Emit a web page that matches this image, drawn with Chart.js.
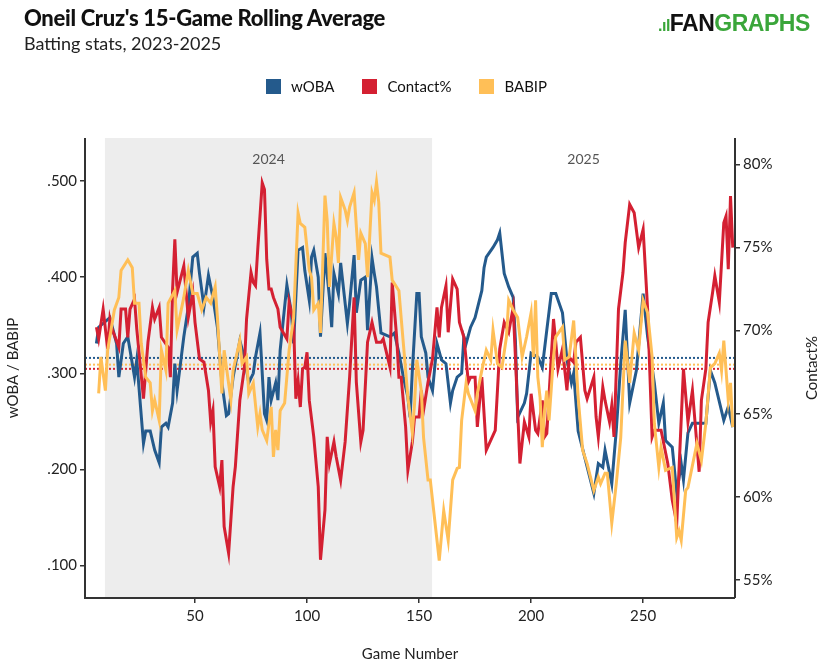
<!DOCTYPE html>
<html><head><meta charset="utf-8">
<script src="https://cdn.jsdelivr.net/npm/chart.js@4"></script>
<style>
body{margin:0;background:#fff;font-family:Lato,"Open Sans",sans-serif;}
#wrap{position:relative;width:823px;height:667px;}
#t{position:absolute;left:24px;top:4px;font-size:22px;font-weight:900;color:#111;letter-spacing:-0.3px}
#s{position:absolute;left:24px;top:32px;font-size:18px;color:#222}
#logo{position:absolute;left:658px;top:10px;font-size:23px;font-weight:900;font-family:"Liberation Sans",Arial,sans-serif;letter-spacing:-0.5px}
#lg{position:absolute;top:77px;left:0;width:823px;display:flex;justify-content:center;gap:28px;font-size:15px;color:#111}
#lg span{display:flex;align-items:center}
#lg i{display:inline-block;width:15px;height:15px;margin-right:10px}
</style></head><body><div id="wrap">
<canvas id="c" width="823" height="667"></canvas>
<div id="t">Oneil Cruz's 15-Game Rolling Average</div>
<div id="s">Batting stats, 2023-2025</div>
<div id="logo"><span style="color:#3aa63a;font-size:16px">.ıl</span><span style="color:#111">FAN</span><span style="color:#3aa63a">GRAPHS</span></div>
<div id="lg"><span style="margin-left:-10px"><i style="background:#245a8c"></i>wOBA</span><span><i style="background:#d42032"></i>Contact%</span><span><i style="background:#ffbf57"></i>BABIP</span></div>
</div>
<script>
const seriesNames=["wOBA","Contact%","BABIP"];
const wobaGames=[6,7,12,15,16,18,20,23,24,27,28,30,32,34,35,37,38,40,41,42,45,47,49,51,52,54,56,58,60,62,64,65,67,70,72,74,76,77,79,81,82,83,84,86,87,88,91,93,94,96,98,99,101,102,103,105,106,108,110,111,112,114,115,118,119,121,122,124,126,127,129,130,131,133,137,139,141,143,145,146,147,149,150,151,153,154,156,158,160,162,164,165,167,169,170,171,173,175,178,179,180,183,185,186,188,190,192,193,194,197,198,200,203,205,207,209,211,214,216,218,219,221,224,228,230,232,233,236,238,240,242,244,247,250,252,255,257,259,260,263,265,267,268,270,272,275,278,280,282,286,288,290];
const wobaVals=[.331,.348,.358,.331,.296,.331,.338,.296,.314,.227,.240,.240,.220,.207,.244,.248,.244,.269,.310,.282,.338,.369,.421,.425,.404,.369,.402,.379,.348,.290,.256,.258,.296,.334,.317,.290,.300,.317,.342,.258,.251,.296,.272,.290,.272,.324,.392,.363,.331,.428,.431,.407,.376,.421,.428,.400,.338,.425,.379,.348,.404,.383,.415,.352,.373,.423,.363,.397,.400,.345,.420,.404,.390,.342,.338,.342,.321,.296,.275,.254,.303,.383,.383,.338,.321,.296,.282,.331,.314,.310,.269,.282,.296,.300,.338,.331,.348,.358,.386,.410,.421,.431,.439,.446,.404,.390,.379,.334,.254,.269,.279,.321,.317,.306,.345,.383,.383,.363,.314,.290,.300,.240,.212,.175,.206,.202,.220,.185,.240,.310,.366,.269,.303,.383,.338,.290,.248,.269,.230,.223,.175,.206,.189,.238,.248,.248,.248,.303,.290,.251,.265,.244];
const contactGames=[6,7,9,11,12,13,16,17,19,20,21,23,24,27,29,31,32,34,35,38,39,40,41,42,45,47,49,50,52,54,56,57,58,59,61,62,63,65,67,68,70,72,73,75,76,77,78,80,81,82,83,84,85,87,88,91,92,94,95,96,97,98,99,100,101,103,105,106,108,109,110,112,113,115,117,119,121,122,124,125,127,129,131,133,134,137,138,140,141,142,144,145,147,148,150,151,152,154,156,158,159,160,162,163,165,167,168,170,172,173,175,176,178,180,184,186,188,190,192,193,195,197,199,200,202,203,205,206,207,210,211,212,214,216,217,219,220,222,224,225,228,229,230,232,233,235,236,237,239,241,242,244,246,248,250,252,254,255,258,261,263,265,266,268,270,272,275,276,278,279,281,282,284,286,287,288,289,290];
const contactVals=[70.2,69.5,71.3,68.9,70.7,70.1,69.0,71.3,71.3,69.6,71.3,71.9,70.1,65.9,69.3,71.4,70.7,71.4,69.6,69.0,67.2,72.5,75.5,72.3,73.9,70.8,72.3,70.5,68.3,68.1,66.4,64.5,65.2,61.8,60.6,62.2,58.2,56.6,60.6,61.8,65.8,67.7,70.7,73.5,72.9,72.7,74.9,78.9,78.5,74.3,72.5,72.5,72.0,71.3,70.2,69.5,71.7,70.5,65.9,67.0,65.4,67.7,67.8,68.7,65.8,63.6,60.6,56.2,59.2,63.6,62.0,63.3,62.4,61.0,63.3,67.2,72.0,66.9,63.3,64.0,69.3,70.5,69.3,69.3,69.5,67.8,72.9,69.6,67.2,67.2,64.2,61.6,63.3,64.8,64.8,66.4,65.2,66.9,68.3,71.4,69.6,71.4,72.7,69.9,73.1,72.5,70.5,69.6,66.9,67.2,67.2,64.2,67.2,62.8,64.0,68.9,70.5,69.9,71.4,68.4,62.0,64.5,63.6,66.2,64.0,63.8,65.8,63.6,63.8,70.7,69.3,67.7,68.9,66.4,68.4,68.1,69.3,69.6,66.4,65.9,67.2,64.8,63.6,66.6,65.8,64.5,65.5,63.6,71.3,73.5,75.3,77.6,77.1,75.0,76.1,71.3,63.6,64.0,64.0,62.0,59.8,58.4,61.6,67.7,64.5,66.4,61.5,65.8,67.7,70.5,72.3,73.3,71.7,76.5,76.9,73.7,78.1,75.0];
const babipGames=[7,8,10,11,14,16,17,20,22,23,25,26,28,30,31,32,34,35,37,38,41,42,45,47,49,51,53,55,57,59,60,62,63,66,67,70,71,73,74,76,78,79,80,82,84,85,86,87,88,90,92,94,96,97,99,101,102,103,105,106,108,109,110,112,113,114,115,117,118,119,121,123,124,126,127,129,130,131,132,133,137,138,141,142,144,145,147,148,149,151,152,154,155,157,159,161,163,165,167,168,169,171,172,175,176,178,180,182,183,185,187,189,190,192,194,196,198,200,201,202,203,204,205,206,207,208,210,211,214,215,217,219,221,223,225,228,230,231,233,234,236,238,240,242,244,246,248,250,252,254,255,257,258,260,263,265,266,267,269,270,274,276,278,280,282,284,285,286,288,289,290];
const babipVals=[.279,.317,.282,.324,.366,.379,.407,.418,.410,.373,.373,.331,.296,.290,.261,.272,.251,.324,.303,.373,.386,.345,.379,.407,.383,.383,.366,.379,.373,.390,.358,.279,.324,.272,.303,.334,.310,.317,.279,.290,.244,.258,.241,.230,.265,.213,.241,.220,.261,.269,.324,.358,.467,.456,.452,.407,.400,.366,.373,.342,.485,.459,.390,.456,.442,.415,.483,.470,.459,.473,.488,.418,.446,.435,.400,.488,.480,.499,.478,.425,.421,.397,.386,.358,.303,.275,.238,.269,.314,.282,.233,.189,.189,.147,.105,.157,.126,.189,.201,.202,.251,.290,.279,.261,.279,.303,.324,.314,.345,.310,.306,.338,.376,.366,.358,.317,.338,.363,.317,.376,.296,.275,.223,.261,.282,.251,.317,.338,.348,.314,.317,.355,.275,.220,.206,.178,.192,.185,.196,.196,.144,.185,.233,.334,.290,.342,.324,.376,.363,.317,.248,.202,.223,.199,.202,.129,.136,.126,.178,.181,.227,.209,.248,.306,.310,.321,.303,.334,.272,.290,.244];
const seasonLabels=["2024","2025"];
const season2024=[9.8,155.8];
const avgWoba=.316, avgBabip=.309, avgContact=67.7;
const gameTicks=[50,100,150,200,250];
const leftTicks=[.1,.2,.3,.4,.5];
const rightTicks=[55,60,65,70,75,80];

const pts=(g,v)=>g.map((x,i)=>({x,y:v[i]}));
const C={woba:"#245a8c",con:"#d42032",bab:"#ffbf57"};
const bg={id:"bg",beforeDatasetsDraw(ch){const {ctx,chartArea:a,scales:{x,y,y2}}=ch;
 ctx.save();ctx.fillStyle="#ededed";const x0=x.getPixelForValue(season2024[0]),x1=x.getPixelForValue(season2024[1]);
 ctx.fillRect(x0,a.top,x1-x0,a.bottom-a.top);
 ctx.fillStyle="#555";ctx.font="14px Lato";ctx.textAlign="center";
 ctx.fillText(seasonLabels[0],(x0+x1)/2,164);ctx.fillText(seasonLabels[1],(x1+a.right)/2,164);
 ctx.setLineDash([2,2]);ctx.lineWidth=2;
 [[y,avgWoba,C.woba],[y,avgBabip,C.bab],[y2,avgContact,C.con]].forEach(([s,v,c])=>{ctx.strokeStyle=c;const py=s.getPixelForValue(v);ctx.beginPath();ctx.moveTo(a.left,py);ctx.lineTo(a.right,py);ctx.stroke();});
 ctx.restore();},
 afterDraw(ch){const {ctx,chartArea:a}=ch;ctx.save();ctx.strokeStyle="#333";ctx.lineWidth=2;ctx.beginPath();ctx.moveTo(a.left,a.top);ctx.lineTo(a.left,a.bottom);ctx.lineTo(a.right,a.bottom);ctx.moveTo(a.right,a.top);ctx.lineTo(a.right,a.bottom);ctx.stroke();
 ctx.translate(812,(a.top+a.bottom)/2);ctx.rotate(-Math.PI/2);ctx.fillStyle="#222";ctx.font="15px Lato";ctx.textAlign="center";ctx.textBaseline="middle";ctx.fillText(seriesNames[1],0,0);
 ctx.restore();}};
const ds=(l,d,c,ax)=>({label:l,data:d,borderColor:c,borderWidth:3,pointRadius:0,tension:0,yAxisID:ax,fill:false});
const g={drawOnChartArea:false,drawTicks:true,tickLength:5,tickColor:"#333",lineWidth:1.5};
new Chart(document.getElementById("c"),{type:"line",
 data:{datasets:[ds(seriesNames[2],pts(babipGames,babipVals),C.bab,"y"),ds(seriesNames[1],pts(contactGames,contactVals),C.con,"y2"),ds(seriesNames[0],pts(wobaGames,wobaVals),C.woba,"y")]},
 options:{responsive:false,animation:false,layout:{padding:{top:138,left:0,right:0,bottom:0}},
 plugins:{legend:{display:false},tooltip:{enabled:false}},
 scales:{
 x:{type:"linear",min:0.9,max:291,grid:g,border:{display:false},
   afterBuildTicks:s=>{s.ticks=gameTicks.map(v=>({value:v}));},
   ticks:{color:"#222",font:{family:"Lato",size:15},padding:4},
   title:{display:true,text:"Game Number",color:"#222",font:{family:"Lato",size:15},padding:{top:14}},afterFit:s=>{s.height=69;}},
 y:{position:"left",min:.066,max:.545,afterBuildTicks:s=>{s.ticks=leftTicks.map(v=>({value:v}));},grid:g,border:{display:false},
   ticks:{color:"#222",font:{family:"Lato",size:15},callback:v=>v.toFixed(3).replace(/^0/,"")},
   title:{display:true,text:"wOBA / BABIP",color:"#222",font:{family:"Lato",size:15}},afterFit:s=>{s.width=85;}},
 y2:{position:"right",min:53.9,max:81.6,afterBuildTicks:s=>{s.ticks=rightTicks.map(v=>({value:v}));},grid:g,border:{display:false},
   ticks:{color:"#222",font:{family:"Lato",size:15},callback:v=>v+"%"},
   title:{display:false},afterFit:s=>{s.width=88;}}}},
 plugins:[bg]});
</script></body></html>
